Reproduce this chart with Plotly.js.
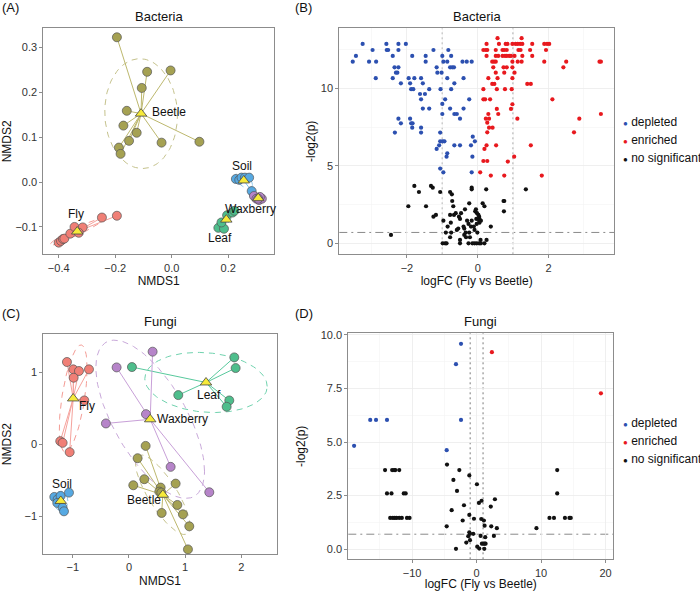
<!DOCTYPE html>
<html>
<head>
<meta charset="utf-8">
<script src="https://cdn.plot.ly/plotly-3.0.1.min.js"></script>
<style>
  html, body { margin: 0; padding: 0; background: #fff; }
  #fig { width: 700px; height: 591px; }
</style>
</head>
<body>
<div id="fig"></div>
<script>
// ---- NMDS, bacteria (panel A) ----
const bacFlyX = [-0.400, -0.392, -0.385, -0.380, -0.359, -0.344, -0.315, -0.247, -0.194, -0.329];
const bacFlyY = [-0.135, -0.131, -0.127, -0.126, -0.115, -0.100, -0.101, -0.079, -0.075, -0.113];
const bacBeetleX = [-0.194, -0.087, -0.004, -0.106, -0.159, -0.171, -0.124, -0.151, -0.036, 0.098, -0.187, -0.181];
const bacBeetleY = [0.323, 0.246, 0.249, 0.210, 0.159, 0.126, 0.110, 0.092, 0.088, 0.090, 0.077, 0.063];
const bacLeafX = [0.165, 0.185, 0.176, 0.196, 0.215, 0.222];
const bacLeafY = [-0.102, -0.104, -0.090, -0.074, -0.068, -0.064];
const bacSoilX = [0.227, 0.239, 0.247, 0.259, 0.274, 0.283];
const bacSoilY = [0.007, 0.005, 0.010, 0.010, 0.010, -0.020];
const bacWaxX = [0.291, 0.300, 0.309, 0.319, 0.312, 0.306];
const bacWaxY = [-0.031, -0.037, -0.040, -0.037, -0.033, -0.037];

// ---- NMDS, fungi (panel C) ----
const funFlyX = [-1.104, -0.991, -0.890, -0.712, -0.985, -0.795, -1.223, -1.181, -1.056];
const funFlyY = [1.144, 1.042, 1.019, 1.042, 0.926, 0.611, 0.046, 0.023, -0.106];
const funBeetleX = [0.297, 0.154, 0.273, 0.077, 0.831, 0.564, 0.540, 0.576, 0.861, 0.961, 0.582, 1.074, 1.050];
const funBeetleY = [-0.019, -0.190, -0.481, -0.565, -0.542, -0.597, -0.653, -0.667, -0.838, -0.968, -0.949, -1.134, -1.454];
const funLeafX = [0.053, 1.875, 1.899, 0.878, 1.786, 1.739];
const funLeafY = [1.074, 1.208, 1.060, 0.685, 0.611, 0.523];
const funSoilX = [-1.329, -1.270, -1.217, -1.068, -1.276, -1.181, -1.157];
const funSoilY = [-0.727, -0.759, -0.713, -0.667, -0.810, -0.875, -0.926];
const funWaxX = [0.421, -0.220, 0.303, -0.410, 0.742, 1.430];
const funWaxY = [1.287, 1.069, 0.421, 0.292, -0.310, -0.662];

// ---- volcano, bacteria (panel B) ----
const bacDepFC = [-3.25, -2.58, -2.24, -2.03,
  -2.97, -2.57, -2.53, -2.24, -1.25, -0.83,
  -3.44, -2.40, -1.85, -1.47, -1.00, -0.75,
  -3.53, -3.07, -2.87, -1.47, -0.97, -0.86, -0.43, -0.31, -0.17,
  -2.35, -2.24, -1.16, -0.78, -0.72, -0.67,
  -2.31, -2.27, -1.14, -1.02,
  -2.88, -2.40, -1.95, -1.79, -1.60, -0.86, -0.40,
  -2.17, -1.91, -1.55, -0.66,
  -1.88, -1.82, -1.37, -1.05, -0.75,
  -1.63, -1.49,
  -1.60, -0.92, -0.24,
  -1.00,
  -1.55, -1.37, -0.78, -0.40,
  -1.00, -0.66, -0.59,
  -2.24, -1.91, -0.50,
  -2.17, -1.88, -1.84,
  -1.85, -1.60,
  -2.34, -1.60, -1.06,
  -0.14,
  -1.06, -0.99, -0.94, -0.08,
  -1.09, -0.66, -0.50, -0.19,
  -1.16, -0.86, -0.88, -0.15, -1.06, -0.97, -0.17];
const bacDepP = [12.86, 12.86, 12.86, 12.86,
  12.47, 12.47, 12.47, 12.47, 12.47, 12.47,
  12.09, 12.09, 12.09, 12.09, 12.09, 12.09,
  11.72, 11.72, 11.72, 11.72, 11.72, 11.72, 11.72, 11.72, 11.72,
  11.35, 11.35, 11.35, 11.35, 11.35, 11.35,
  11.01, 11.01, 11.01, 11.01,
  10.65, 10.65, 10.65, 10.65, 10.65, 10.65, 10.65,
  10.32, 10.32, 10.32, 10.32,
  9.94, 9.94, 9.94, 9.94, 9.94,
  9.63, 9.63,
  9.29, 9.29, 9.29,
  8.99,
  8.69, 8.69, 8.69, 8.69,
  8.34, 8.34, 8.34,
  8.04, 8.04, 8.04,
  7.74, 7.74, 7.74,
  7.46, 7.46,
  7.14, 7.14, 7.14,
  6.88,
  6.58, 6.58, 6.58, 6.58,
  6.32, 6.32, 6.32, 6.32,
  6.09, 5.81, 5.59, 5.59, 4.82, 4.58, 4.58];
const bacEnrFC = [0.56, 1.24,
  0.25, 0.60, 0.79, 0.84, 0.98, 1.07, 1.13, 1.20, 1.26, 1.54, 1.88, 1.96, 2.02,
  0.16, 0.23, 0.27, 0.51, 0.70, 0.75, 0.82, 1.15, 1.21, 1.48, 1.93,
  0.25, 0.51, 0.58, 0.70, 0.77, 0.82, 0.89, 0.94, 1.04, 1.26, 1.54,
  0.41, 0.46, 0.51, 0.98, 1.13, 1.24, 1.88, 2.50, 3.44, 3.48,
  0.44, 0.73, 0.82, 0.98, 2.42,
  0.51, 0.75, 1.04,
  0.30, 0.56, 0.98,
  0.41, 0.47, 1.40, 1.50,
  0.16, 0.54, 0.77, 0.96,
  0.16, 0.21, 0.35, 2.11,
  0.98, 0.54, 0.94,
  0.30, 0.58, 3.48,
  0.23, 0.32, 1.12, 2.87,
  0.27, 0.32, 0.42, 0.27, 2.72,
  0.25, 0.52, 1.50, 0.19, 1.03, 0.16, 0.27, 0.85, 0.07, 0.37, 0.75, 1.81];
const bacEnrP = [13.23, 13.23,
  12.86, 12.86, 12.86, 12.86, 12.86, 12.86, 12.86, 12.86, 12.86, 12.86, 12.86, 12.86, 12.86,
  12.47, 12.47, 12.47, 12.47, 12.47, 12.47, 12.47, 12.47, 12.47, 12.47, 12.47,
  12.09, 12.09, 12.09, 12.09, 12.09, 12.09, 12.09, 12.09, 12.09, 12.09, 12.09,
  11.72, 11.72, 11.72, 11.72, 11.72, 11.72, 11.72, 11.72, 11.72, 11.72,
  11.35, 11.35, 11.35, 11.35, 11.35,
  11.01, 11.01, 11.01,
  10.65, 10.65, 10.65,
  10.28, 10.28, 10.28, 10.28,
  9.94, 9.94, 9.94, 9.94,
  9.29, 9.29, 9.29, 9.29,
  8.97, 8.67, 8.67,
  8.34, 8.34, 8.34,
  8.04, 8.04, 8.04, 8.04,
  7.78, 7.46, 7.46, 7.16, 7.16,
  6.32, 6.32, 6.32, 6.09, 5.59, 5.31, 5.31, 5.27, 4.58, 4.37, 4.37, 4.37];
const bacNsFC = [-1.79, -1.32, -1.27, -0.17, -0.17, 0.24, 1.36,
  -1.66, -1.06, -0.78, -0.73, -0.72, 0.73, 0.75, -0.24, 0.14,
  -1.96, -1.46, -0.69, 0.19, -0.36, -0.05, 0.74, -0.07,
  -0.62, -0.47, -0.02, -1.18, -0.78, -0.67, 0.02, -1.25, -0.53, 0.04,
  -0.50, -0.04, 0.05, -0.97, -0.30, -0.17, 0.04, 0.09, -0.76, 0.05, -0.26, -0.03,
  -0.85, -0.40, -0.19, -0.11, 0.37, -0.55, -0.38, -0.59, -0.09,
  -0.90, -0.75, -0.34, -0.24, -0.01, -2.45, -0.38, -0.78, -0.33, -0.22,
  -0.50, 0.08, 0.25,
  -0.99, -0.92, -0.88, -0.50, -0.26, -0.15, -0.09, -0.03, 0.04, 0.09, 0.19];
const bacNsP = [3.70, 3.70, 3.59, 3.59, 3.48, 3.48, 3.48,
  3.31, 3.31, 3.31, 3.16, 2.73, 2.73, 2.73, 2.58, 2.58,
  2.39, 2.39, 2.39, 2.39, 2.19, 2.19, 2.06, 2.06,
  1.94, 1.94, 1.94, 1.83, 1.83, 1.83, 1.83, 1.72, 1.72, 1.72,
  1.57, 1.57, 1.57, 1.46, 1.46, 1.46, 1.46, 1.46, 1.33, 1.33, 1.25, 1.25,
  1.08, 1.08, 1.08, 1.08, 1.08, 0.95, 0.95, 0.86, 0.86,
  0.69, 0.69, 0.69, 0.69, 0.69, 0.54, 0.54, 0.39, 0.39, 0.39,
  0.22, 0.22, 0.22,
  0.00, 0.00, 0.00, 0.00, 0.00, 0.00, 0.00, 0.00, 0.00, 0.00, 0.00];

// ---- volcano, fungi (panel D) ----
const funDepFC = [-2.42, -3.20, -16.5, -15.6, -13.9, -2.42, -19.0, -4.64];
const funDepP = [9.58, 8.63, 6.03, 6.03, 6.03, 6.03, 4.82, 4.62];
const funEnrFC = [2.37, 19.28];
const funEnrP = [9.19, 7.27];
const funNsFC = [-4.59, -14.2, -13.1, -12.8, -12.6, -12.0, -2.68, 12.5, -1.13, 0.05, -3.60,
  -13.9, -13.2, -11.3, -11.0, 12.5, -3.04, 2.84, 0.77, 0.36, -1.96, 2.20, -3.87,
  -13.4, -13.0, -12.7, -12.4, -12.0, -11.6, -10.8, -10.4, 11.3, 12.0, 13.7, 14.4, 14.6,
  -1.13, -0.41, 0.72, 1.13, -2.16, -4.64, 1.24, 2.27, 3.14, 9.28,
  -1.13, -1.03, -0.52, 0.62, 2.68, -1.29, -1.60, -1.03, 1.34,
  0.82, 1.03, 1.24, 1.39, 0.10, 0.41, 1.19, -3.20];
const funNsP = [3.95, 3.69, 3.69, 3.69, 3.69, 3.69, 3.69, 3.69, 3.44, 3.03, 3.23,
  2.60, 2.60, 2.60, 2.60, 2.60, 2.72, 2.33, 2.26, 2.16, 2.05, 1.99, 1.82,
  1.46, 1.46, 1.46, 1.46, 1.46, 1.46, 1.46, 1.46, 1.46, 1.46, 1.46, 1.46, 1.46,
  1.60, 1.42, 1.41, 1.34, 1.34, 1.07, 1.10, 1.07, 0.98, 0.98,
  0.79, 0.72, 0.72, 0.62, 0.62, 0.61, 0.31, 0.42, 0.56,
  0.26, 0.26, 0.26, 0.26, 0.12, 0.03, 0.02, 0.02];

const fcCut = [-1, 1];
const pCut = 0.7;
const sigNames = ['depleted', 'enriched', 'no significant'];

// ---- styling ----
const FONT = 'Liberation Sans, Arial, sans-serif';
const groupStyle = {
  Fly:      { fill: '#F07F76', line: '#F5A29C', ell: '#F49C95' },
  Beetle:   { fill: '#A5A152', line: '#BDB86E', ell: '#C5C28C' },
  Leaf:     { fill: '#4EBE8C', line: '#58C99D', ell: '#70D2AE' },
  Soil:     { fill: '#56A9E2', line: '#80C4EE', ell: '#8ECBF1' },
  Waxberry: { fill: '#B684C9', line: '#C8A0D8', ell: '#C9A9DA' }
};
const sigColors = ['#2C50B0', '#E8191E', '#111111'];
const ELL_K = 1.45;

const bacGroups = [
  { name: 'Fly', x: bacFlyX, y: bacFlyY, dx: -1, dy: 18 },
  { name: 'Beetle', x: bacBeetleX, y: bacBeetleY, dx: 28, dy: 2 },
  { name: 'Leaf', x: bacLeafX, y: bacLeafY, dx: -6, dy: -18 },
  { name: 'Soil', x: bacSoilX, y: bacSoilY, dx: -2, dy: 14 },
  { name: 'Waxberry', x: bacWaxX, y: bacWaxY, dx: -8, dy: -11 }
];
const funGroups = [
  { name: 'Fly', x: funFlyX, y: funFlyY, dx: 14, dy: -8 },
  { name: 'Beetle', x: funBeetleX, y: funBeetleY, dx: -19, dy: -5 },
  { name: 'Leaf', x: funLeafX, y: funLeafY, dx: 3, dy: -13 },
  { name: 'Soil', x: funSoilX, y: funSoilY, dx: 1, dy: 17 },
  { name: 'Waxberry', x: funWaxX, y: funWaxY, dx: 32, dy: 0 }
];

const mean = a => a.reduce((s, v) => s + v, 0) / a.length;

function ellipse(xs, ys, k) {
  const n = xs.length, mx = mean(xs), my = mean(ys);
  let sxx = 0, syy = 0, sxy = 0;
  for (let i = 0; i < n; i++) {
    const dx = xs[i] - mx, dy = ys[i] - my;
    sxx += dx * dx; syy += dy * dy; sxy += dx * dy;
  }
  sxx /= (n - 1); syy /= (n - 1); sxy /= (n - 1);
  const a = Math.sqrt(sxx), b = sxy / a, c = Math.sqrt(Math.max(syy - b * b, 0));
  const ex = [], ey = [];
  for (let t = 0; t <= 120; t++) {
    const th = 2 * Math.PI * t / 120;
    ex.push(mx + k * a * Math.cos(th));
    ey.push(my + k * (b * Math.cos(th) + c * Math.sin(th)));
  }
  return [ex, ey];
}

const traces = [];
const annotations = [];

function nmdsPanel(groups, xa, ya) {
  const under = [], pts = [], cents = [];
  groups.forEach(g => {
    const st = groupStyle[g.name];
    const cx = mean(g.x), cy = mean(g.y);
    const [ex, ey] = ellipse(g.x, g.y, ELL_K);
    under.push({ type: 'scatter', mode: 'lines', x: ex, y: ey, xaxis: xa, yaxis: ya,
      line: { color: st.ell, width: 1, dash: '6px,5px' }, hoverinfo: 'skip', showlegend: false });
    const sx = [], sy = [];
    g.x.forEach((v, i) => { sx.push(v, cx, null); sy.push(g.y[i], cy, null); });
    under.push({ type: 'scatter', mode: 'lines', x: sx, y: sy, xaxis: xa, yaxis: ya,
      line: { color: st.line, width: 1 }, hoverinfo: 'skip', showlegend: false });
    pts.push({ type: 'scatter', mode: 'markers', name: g.name, x: g.x, y: g.y, xaxis: xa, yaxis: ya,
      marker: { color: st.fill, size: 9, line: { color: '#555', width: 0.7 } }, showlegend: false });
    cents.push({ type: 'scatter', mode: 'markers', x: [cx], y: [cy], xaxis: xa, yaxis: ya,
      marker: { symbol: 'triangle-up', color: '#F6EA3A', size: 10, line: { color: '#444', width: 0.8 } },
      hoverinfo: 'skip', showlegend: false });
    annotations.push({ x: cx, y: cy, xref: xa, yref: ya, text: g.name, showarrow: false,
      xshift: g.dx, yshift: g.dy, font: { family: FONT, size: 12, color: '#111' } });
  });
  traces.push(...under, ...pts, ...cents);
}

function volcanoPanel(series, xa, ya) {
  series.forEach((s, i) => {
    traces.push({ type: 'scatter', mode: 'markers', name: sigNames[i], x: s[0], y: s[1],
      xaxis: xa, yaxis: ya, marker: { color: sigColors[i], size: 4.2 }, showlegend: false });
  });
}

nmdsPanel(bacGroups, 'x', 'y');
volcanoPanel([[bacDepFC, bacDepP], [bacEnrFC, bacEnrP], [bacNsFC, bacNsP]], 'x2', 'y2');
nmdsPanel(funGroups, 'x3', 'y3');
volcanoPanel([[funDepFC, funDepP], [funEnrFC, funEnrP], [funNsFC, funNsP]], 'x4', 'y4');

const H = 591, W = 700;
const py = v => 1 - v / H, px = v => v / W;

function ax(domain, range, extra, titleText, standoff) {
  return Object.assign({
    domain: domain, range: range, showline: true, mirror: true, linecolor: '#8c8c8c', linewidth: 1,
    ticks: 'outside', ticklen: 3, tickcolor: '#8c8c8c', zeroline: false, showgrid: false,
    tickfont: { family: FONT, size: 11, color: '#333' },
    title: { text: titleText, standoff: standoff, font: { family: FONT, size: 12, color: '#111' } }
  }, extra);
}
const gridOn = (dt) => ({ showgrid: true, gridcolor: '#ebebeb', gridwidth: 0.8,
  minor: { dtick: dt, showgrid: true, gridcolor: '#f4f4f4', gridwidth: 0.6 } });

const layout = {
  width: W, height: H,
  margin: { l: 0, r: 0, t: 0, b: 0 },
  paper_bgcolor: '#fff', plot_bgcolor: '#fff',
  showlegend: false,
  xaxis: ax([px(43.3), px(274)], [-0.4545, 0.362], { tickvals: [-0.4, -0.2, 0, 0.2], tickformat: '.1f', anchor: 'y' }, 'NMDS1', 4),
  yaxis: ax([py(254.3), py(28.3)], [-0.161, 0.343], { dtick: 0.1, tickformat: '.1f', anchor: 'x' }, 'NMDS2', 8),
  xaxis2: ax([px(339.3), px(614)], [-3.91, 3.85], Object.assign({ dtick: 2, anchor: 'y2' }, gridOn(1)), 'logFC (Fly vs Beetle)', 4),
  yaxis2: ax([py(254.3), py(28.3)], [-0.71, 13.87], Object.assign({ dtick: 5, anchor: 'x2' }, gridOn(2.5)), '-log2(p)', 2),
  xaxis3: ax([px(43.3), px(276.7)], [-1.525, 2.63], { dtick: 1, anchor: 'y3' }, 'NMDS1', 4),
  yaxis3: ax([py(554), py(334.3)], [-1.518, 1.528], { dtick: 1, anchor: 'x3' }, 'NMDS2', 11),
  xaxis4: ax([px(348.3), px(613.3)], [-19.9, 21.2], Object.assign({ dtick: 10, anchor: 'y4' }, gridOn(5)), 'logFC (Fly vs Beetle)', 4),
  yaxis4: ax([py(559.3), py(333.3)], [-0.47, 10.07], Object.assign({ dtick: 2.5, tickformat: '.1f', anchor: 'x4' }, gridOn(1.25)), '-log2(p)', 12),
  shapes: [],
  annotations: annotations
};

// threshold lines on the volcano panels
[['x2', 'y2'], ['x4', 'y4']].forEach(([xa, ya]) => {
  fcCut.forEach(v => layout.shapes.push({ type: 'line', layer: 'below', xref: xa, yref: ya + ' domain',
    x0: v, x1: v, y0: 0, y1: 1, line: { color: '#7a7a7a', width: 1, dash: '2px,3px' } }));
  layout.shapes.push({ type: 'line', layer: 'below', xref: xa + ' domain', yref: ya,
    x0: 0, x1: 1, y0: pCut, y1: pCut, line: { color: '#8a8a8a', width: 1, dash: '8px,4px,2px,4px' } });
});

// panel letters and titles
const panelLbl = [['(A)', 0, 8], ['(B)', 293, 8], ['(C)', 0, 313], ['(D)', 293, 313]];
panelLbl.forEach(([t, x, y]) => annotations.push({ xref: 'paper', yref: 'paper', x: px(x), y: py(y),
  xanchor: 'left', yanchor: 'middle', text: t, showarrow: false, font: { family: FONT, size: 13, color: '#111' } }));
const panelTitle = [['Bacteria', 'x', 16], ['Bacteria', 'x2', 16], ['Fungi', 'x3', 321], ['Fungi', 'x4', 321]];
panelTitle.forEach(([t, xa, y]) => annotations.push({ xref: xa + ' domain', yref: 'paper', x: 0.5, y: py(y),
  xanchor: 'center', yanchor: 'middle', text: t, showarrow: false, font: { family: FONT, size: 13, color: '#111' } }));

// legends (B and D)
[[122, 18], [423, 18]].forEach(([y0, step]) => {
  sigNames.forEach((nm, i) => annotations.push({ xref: 'paper', yref: 'paper', x: px(620.5), y: py(y0 + i * step),
    xanchor: 'left', yanchor: 'middle', showarrow: false,
    text: '<span style="color:' + sigColors[i] + ';font-size:8px">\u25CF</span> ' + nm,
    font: { family: FONT, size: 12, color: '#111' } }));
});

Plotly.newPlot('fig', traces, layout, { staticPlot: true });
</script>
</body>
</html>
